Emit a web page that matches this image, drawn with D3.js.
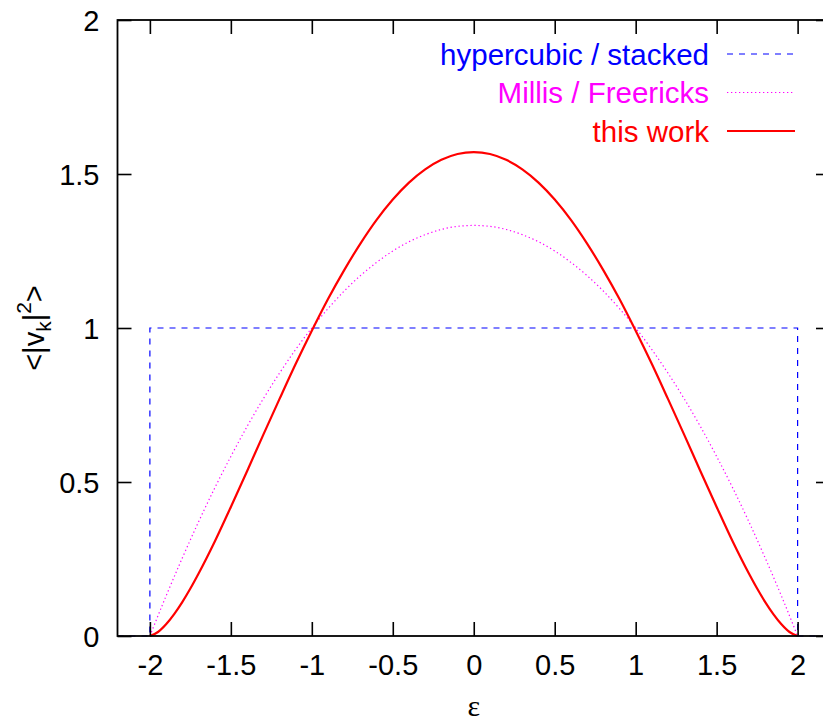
<!DOCTYPE html>
<html><head><meta charset="utf-8">
<script src="https://cdn.jsdelivr.net/npm/d3@7"></script>
<style>body{margin:0;background:#fff}svg{display:block}</style>
</head><body>
<svg id="c" width="823" height="722"></svg>
<script>
// ---- data ----
const xTicks = [-2, -1.5, -1, -0.5, 0, 0.5, 1, 1.5, 2];
const yTicks = [0, 0.5, 1, 1.5, 2];
const seriesNames = ["hypercubic / stacked", "Millis / Freericks", "this work"];
const hyperX = [-2.2, -2, -2, 2, 2, 2.2];
const hyperY = [0, 0, 1, 1, 0, 0];
const millisX = [-2, -1.9, -1.8, -1.7, -1.6, -1.5, -1.4, -1.3, -1.2, -1.1, -1, -0.9, -0.8, -0.7, -0.6, -0.5, -0.4, -0.3, -0.2, -0.1, 0,
                 0.1, 0.2, 0.3, 0.4, 0.5, 0.6, 0.7, 0.8, 0.9, 1, 1.1, 1.2, 1.3, 1.4, 1.5, 1.6, 1.7, 1.8, 1.9, 2];
const millisY = [0, 0.13, 0.253, 0.37, 0.48, 0.583, 0.68, 0.77, 0.853, 0.93, 1, 1.063, 1.12, 1.17, 1.213, 1.25, 1.28, 1.303, 1.32, 1.33, 1.333,
                 1.33, 1.32, 1.303, 1.28, 1.25, 1.213, 1.17, 1.12, 1.063, 1, 0.93, 0.853, 0.77, 0.68, 0.583, 0.48, 0.37, 0.253, 0.13, 0];
const workX = [-2, -1.95, -1.9, -1.85, -1.8, -1.75, -1.7, -1.6, -1.5, -1.4, -1.3, -1.2, -1.1, -1, -0.9, -0.8, -0.7, -0.6, -0.5, -0.4, -0.3, -0.2, -0.1, 0,
               0.1, 0.2, 0.3, 0.4, 0.5, 0.6, 0.7, 0.8, 0.9, 1, 1.1, 1.2, 1.3, 1.4, 1.5, 1.6, 1.7, 1.75, 1.8, 1.85, 1.9, 1.95, 2];
const workY = [0, 0.013, 0.038, 0.071, 0.110, 0.154, 0.202, 0.306, 0.419, 0.535, 0.653, 0.769, 0.883, 0.991, 1.094, 1.188, 1.274, 1.351, 1.417, 1.472, 1.515, 1.546, 1.565, 1.571,
               1.565, 1.546, 1.515, 1.472, 1.417, 1.351, 1.274, 1.188, 1.094, 0.991, 0.883, 0.769, 0.653, 0.535, 0.419, 0.306, 0.202, 0.154, 0.110, 0.071, 0.038, 0.013, 0];

// ---- layout ----
const svg = d3.select("#c");
const L = 117.5, T = 20, R = 830, B = 636;
const x = d3.scaleLinear().domain([-2.2, 2.2]).range([L, R]);
const y = d3.scaleLinear().domain([0, 2]).range([B, T]);
const font = "'Liberation Sans', Arial, sans-serif";
const fs = 29;
const tickLen = 14;
const fmt = d => String(d);

svg.append("defs").append("clipPath").attr("id", "clip")
  .append("rect").attr("x", L).attr("y", T - 2).attr("width", R - L).attr("height", B - T + 4);

const plot = svg.append("g").attr("clip-path", "url(#clip)");
const line = (xs, ys, curve) => d3.line().x((d, i) => x(xs[i])).y((d, i) => y(ys[i])).curve(curve)(xs);

plot.append("path").attr("d", line(hyperX, hyperY, d3.curveLinear))
  .attr("fill", "none").attr("stroke", "#0000ff").attr("stroke-width", 1.2).attr("stroke-dasharray", "6,6");
plot.append("path").attr("d", line(millisX, millisY, d3.curveMonotoneX))
  .attr("fill", "none").attr("stroke", "#ff00ff").attr("stroke-width", 1.2).attr("stroke-dasharray", "1.3,2.7");
plot.append("path").attr("d", line(workX, workY, d3.curveMonotoneX))
  .attr("fill", "none").attr("stroke", "#ff0000").attr("stroke-width", 2.2);

// axes via d3 axis generators
const ax = svg.append("g").attr("font-family", font);
const styleAxis = g => { g.select(".domain").remove(); g.selectAll("line").attr("stroke", "#000").attr("stroke-width", 1.6); };
ax.append("g").attr("transform", `translate(0,${B})`)
  .call(d3.axisBottom(x).tickValues(xTicks).tickSizeInner(-tickLen).tickPadding(24).tickFormat(fmt))
  .call(styleAxis)
  .call(g => g.selectAll("text").attr("font-size", fs).attr("font-family", font).attr("fill", "#000").attr("dy", "0.71em").attr("y", 18));
ax.append("g").attr("transform", `translate(0,${T})`)
  .call(d3.axisTop(x).tickValues(xTicks).tickSizeInner(-tickLen).tickFormat(""))
  .call(styleAxis);
ax.append("g").attr("transform", `translate(${L},0)`)
  .call(d3.axisLeft(y).tickValues(yTicks).tickSizeInner(-tickLen).tickPadding(18).tickFormat(fmt))
  .call(styleAxis)
  .call(g => g.selectAll("text").attr("font-size", fs).attr("font-family", font).attr("fill", "#000").attr("x", -18).attr("dy", "0.36em"));
ax.append("g").attr("transform", `translate(${R},0)`)
  .call(d3.axisRight(y).tickValues(yTicks).tickSizeInner(-tickLen).tickFormat(""))
  .call(styleAxis);

svg.append("rect").attr("x", L).attr("y", T).attr("width", R - L).attr("height", B - T)
  .attr("fill", "none").attr("stroke", "#000").attr("stroke-width", 1.8);

// legend
const legColors = ["#0000ff", "#ff00ff", "#ff0000"];
const legDash = ["6,6", "1.3,2.7", null];
const legW = [1.2, 1.2, 2.2];
const lg = svg.append("g");
seriesNames.forEach((n, i) => {
  const cy = 54 + i * 38.5;
  lg.append("text").attr("x", 709).attr("y", cy).attr("dy", "0.36em").attr("text-anchor", "end")
    .attr("font-family", font).attr("font-size", 29.5).attr("fill", legColors[i]).text(n);
  lg.append("line").attr("x1", 727).attr("x2", 795).attr("y1", cy).attr("y2", cy)
    .attr("stroke", legColors[i]).attr("stroke-width", legW[i]).attr("stroke-dasharray", legDash[i]);
});

// axis titles
svg.append("text").attr("x", x(0)).attr("y", 716).attr("text-anchor", "middle")
  .attr("font-family", "'Liberation Serif', 'DejaVu Serif', serif").attr("font-size", 30).text("ε");
const yl = svg.append("text").attr("transform", "translate(44,328) rotate(-90)").attr("text-anchor", "middle")
  .attr("font-family", font).attr("font-size", fs);
yl.append("tspan").text("<|v");
yl.append("tspan").attr("font-size", 21).attr("dy", 7).text("k");
yl.append("tspan").attr("dy", -7).text("|");
yl.append("tspan").attr("font-size", 21).attr("dy", -13).text("2");
yl.append("tspan").attr("dy", 13).text(">");
</script>
</body></html>
